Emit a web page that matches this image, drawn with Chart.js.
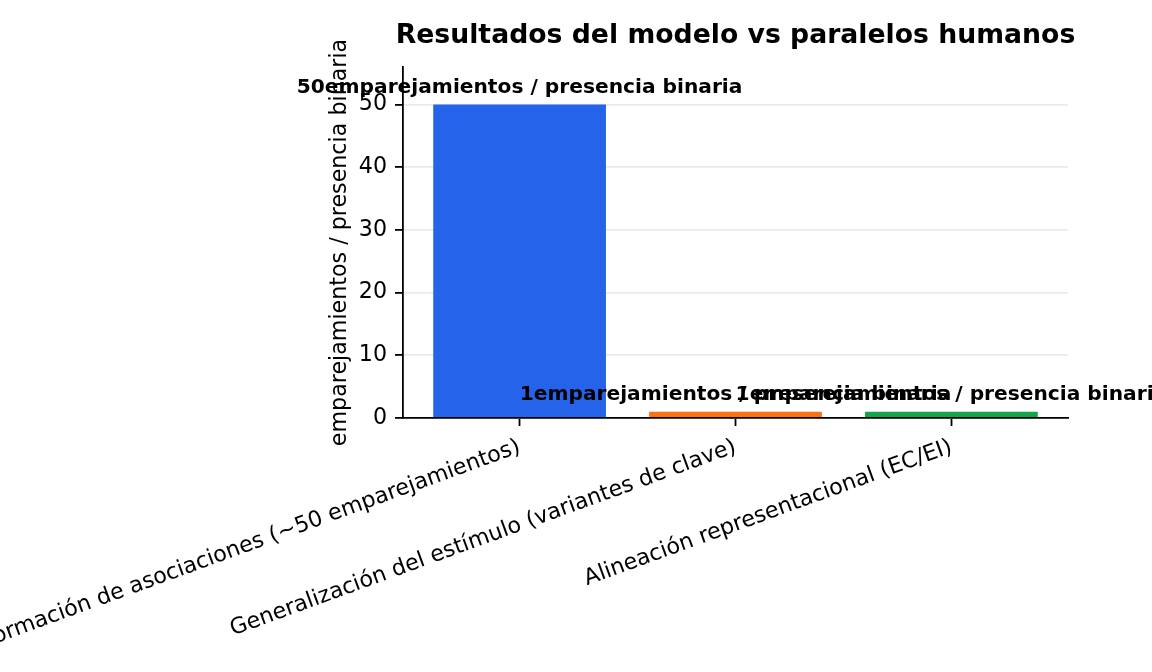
<!DOCTYPE html>
<html>
<head>
<meta charset="utf-8">
<script src="https://cdn.jsdelivr.net/npm/chart.js@4/dist/chart.umd.min.js"></script>
<style>
  body { margin: 0; background: #fff; }
  #wrap { width: 1152px; height: 672px; }
</style>
</head>
<body>
<div id="wrap"><canvas id="myChart" width="1152" height="672"></canvas></div>
<script>
const categories = [
    'Formación de asociaciones (~50 emparejamientos)',
    'Generalización del estímulo (variantes de clave)',
    'Alineación representacional (EC/EI)'
];
const values = [50, 1, 1];
const barColors = ['#2563eb', '#f97316', '#16a34a'];
const unitLabel = 'emparejamientos / presencia binaria';
const chartTitle = 'Resultados del modelo vs paralelos humanos';

const FONT = "'DejaVu Sans', 'Liberation Sans', sans-serif";

// value labels on top of each bar + title centred over the plot area
const barLabels = {
    id: 'barLabels',
    afterDraw(chart) {
        const ctx = chart.ctx;
        const area = chart.chartArea;
        const meta = chart.getDatasetMeta(0);
        ctx.save();
        ctx.fillStyle = '#000';
        ctx.textAlign = 'center';

        ctx.font = 'bold 26.7px ' + FONT;
        ctx.textBaseline = 'middle';
        ctx.fillText(chartTitle, (area.left + area.right) / 2, 36);

        ctx.font = 'bold 20.2px ' + FONT;
        ctx.textBaseline = 'alphabetic';
        meta.data.forEach((bar, i) => {
            ctx.fillText(values[i] + unitLabel, bar.x, bar.y - 12);
        });
        ctx.restore();
    }
};

const ctx = document.getElementById('myChart').getContext('2d');
const chart = new Chart(ctx, {
    type: 'bar',
    data: {
        datasets: [{
            data: values.map((v, i) => ({x: i, y: v})),
            backgroundColor: barColors,
            borderWidth: 0,
            categoryPercentage: 0.8,
            barPercentage: 1.0
        }]
    },
    options: {
        responsive: false,
        animation: false,
        layout: { padding: { left: 327, right: 84, top: 67, bottom: 0 } },
        plugins: {
            legend: { display: false },
            tooltip: { enabled: false },
            title: { display: false }
        },
        scales: {
            x: {
                type: 'linear',
                min: -0.54,
                max: 2.54,
                offset: false,
                z: 1,
                grid: {
                    offset: false,
                    drawOnChartArea: false,
                    drawTicks: true,
                    tickLength: 8,
                    tickColor: '#000',
                    tickWidth: 1.8
                },
                border: { color: '#000', width: 1.8 },
                ticks: {
                    stepSize: 1,
                    includeBounds: false,
                    autoSkip: false,
                    minRotation: 20,
                    maxRotation: 20,
                    padding: 8,
                    color: '#000',
                    font: { family: FONT, size: 22.2 },
                    callback: (v) => categories[v] ?? ''
                },
                afterFit(scale) {
                    scale.height = 254;
                    scale.paddingLeft = 0;
                    scale.paddingRight = 0;
                }
            },
            y: {
                min: 0,
                max: 56,
                z: 1,
                grid: {
                    color: 'rgba(176,176,176,0.27)',
                    lineWidth: 1.8,
                    tickLength: 8,
                    tickColor: '#000',
                    tickWidth: 1.8
                },
                border: { color: '#000', width: 1.8 },
                ticks: {
                    stepSize: 10,
                    includeBounds: false,
                    padding: 8,
                    color: '#000',
                    font: { family: FONT, size: 22.2 }
                },
                title: {
                    display: true,
                    text: unitLabel,
                    color: '#000',
                    font: { family: FONT, size: 22.2 },
                    padding: { top: 0, bottom: 0 }
                },
                afterFit(scale) {
                    scale.width = 76;
                    scale.paddingTop = 0;
                    scale.paddingBottom = 0;
                }
            }
        }
    },
    plugins: [barLabels]
});
</script>
</body>
</html>
